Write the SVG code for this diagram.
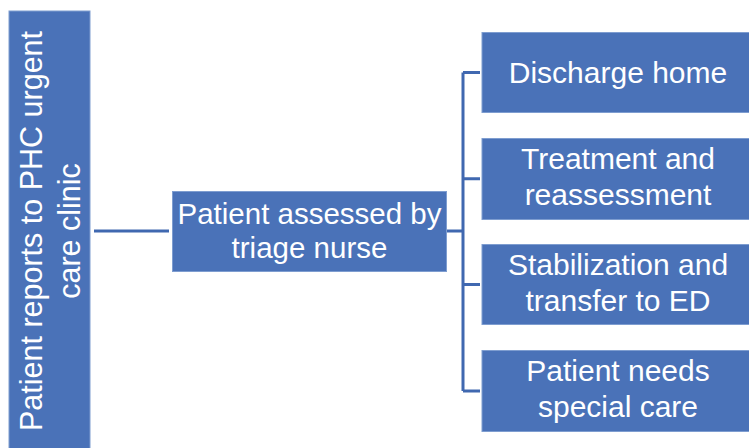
<svg xmlns="http://www.w3.org/2000/svg" width="749" height="448" viewBox="0 0 749 448">
<style>
.box{fill:#4a72b8;stroke:#7e9dd0;stroke-width:1}
.t{font-family:"Liberation Sans",Arial,sans-serif;font-size:30px;fill:#ffffff;text-anchor:middle}
.c{fill:none;stroke:#4068b0;stroke-width:3}
</style>
<rect width="749" height="448" fill="#ffffff"/>
<g id="connectors">
<path class="c" d="M94 231H169"/>
<path class="c" d="M447 231H463M463 72.5V391M463 72.5H480M463 178.8H480M463 284.5H480M463 391H480"/>
</g>
<g id="n-clinic">
<rect class="box" x="9" y="11" width="81" height="440"/>
<text class="t" transform="translate(42 231) rotate(-90)" style="font-size:30.5px">Patient reports to PHC urgent</text>
<text class="t" transform="translate(80 231) rotate(-90)" style="font-size:30.5px">care clinic</text>
</g>
<g id="n-triage">
<rect class="box" x="172.5" y="191.5" width="274" height="80"/>
<text class="t" x="309.5" y="224" style="font-size:29.5px">Patient assessed by</text>
<text class="t" x="309.5" y="258" style="font-size:29.5px">triage nurse</text>
</g>
<g id="n-discharge">
<rect class="box" x="482" y="32.5" width="270" height="80"/>
<text class="t" x="618" y="83">Discharge home</text>
</g>
<g id="n-treatment">
<rect class="box" x="482" y="138.5" width="270" height="81"/>
<text class="t" x="618" y="169">Treatment and</text>
<text class="t" x="618" y="205">reassessment</text>
</g>
<g id="n-stabilization">
<rect class="box" x="482" y="244.5" width="270" height="80"/>
<text class="t" x="618" y="275">Stabilization and</text>
<text class="t" x="618" y="311">transfer to ED</text>
</g>
<g id="n-special">
<rect class="box" x="482" y="350.5" width="270" height="81"/>
<text class="t" x="618" y="381">Patient needs</text>
<text class="t" x="618" y="417">special care</text>
</g>
</svg>
